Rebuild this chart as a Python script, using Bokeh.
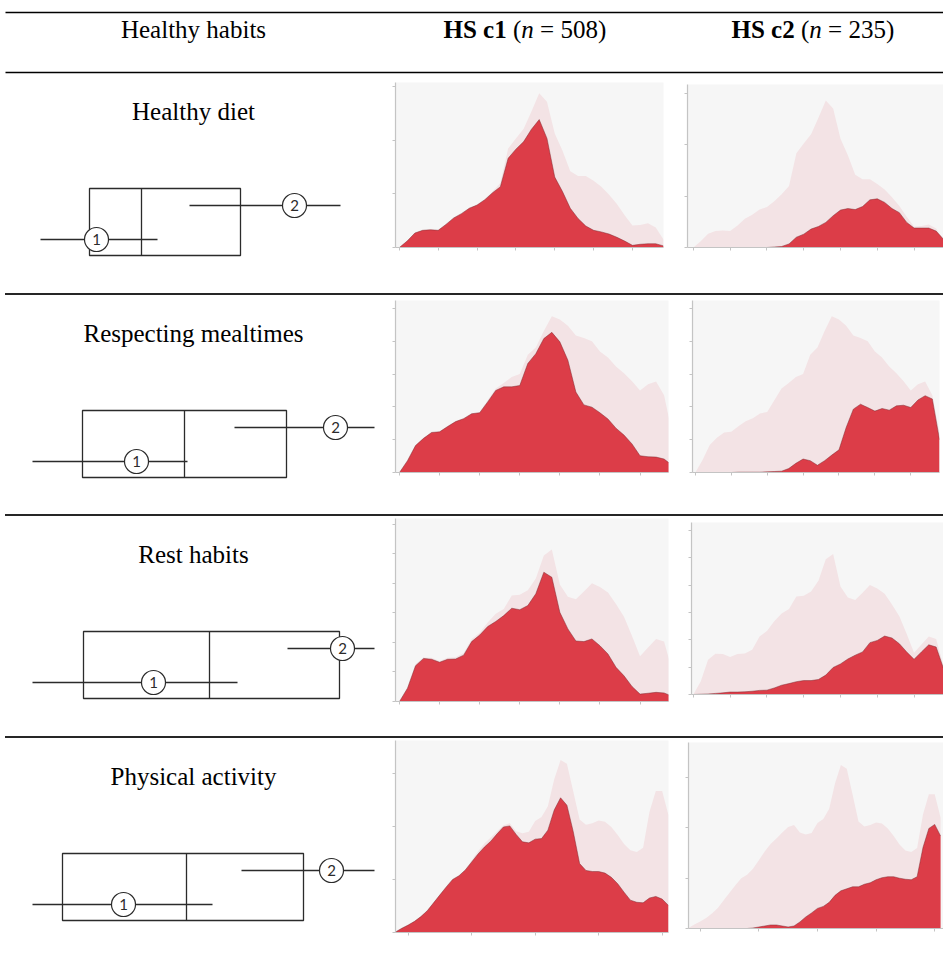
from bokeh.plotting import figure
from bokeh.models import Range1d, FixedTicker, Div
from bokeh.layouts import column, row
from bokeh.embed import file_html
from bokeh.resources import INLINE
from bokeh.core.properties import value

# ---------------- data ----------------
header_label = "Healthy habits"
cluster_labels = ["HS c1", "HS c2"]
cluster_sizes = [508, 235]
habit_labels = ["Healthy diet", "Respecting mealtimes", "Rest habits", "Physical activity"]

score_grid = [0.0, 0.2, 0.4, 0.6, 0.8, 1.0, 1.2, 1.4, 1.6, 1.8, 2.0, 2.2, 2.4, 2.6, 2.8,
              3.0, 3.2, 3.4, 3.6, 3.8, 4.0, 4.2, 4.4, 4.6, 4.8, 5.0, 5.2, 5.4, 5.6, 5.8,
              6.0, 6.2, 6.4, 6.6, 6.8]
activity_grid = [0.8, 0.9, 1.0, 1.1, 1.2, 1.3, 1.4, 1.5, 1.6, 1.7, 1.8, 1.9, 2.0, 2.1, 2.2,
                 2.3, 2.4, 2.5, 2.6, 2.7, 2.8, 2.9, 3.0, 3.1, 3.2, 3.3, 3.4, 3.5, 3.6, 3.7,
                 3.8, 3.9, 4.0, 4.1, 4.2, 4.3, 4.4, 4.5, 4.6, 4.7, 4.8, 4.9, 5.0, 5.1]
score_ticks = [0, 1, 2, 3, 4, 5, 6]
activity_ticks = [1, 2, 3, 4, 5]
density_ticks = [[0, 1, 2, 3], [0, 1, 2, 3, 4, 5], [0, 1, 2, 3, 4, 5, 6], [0, 1, 2, 3]]

diet_all = [0.00, 0.12, 0.27, 0.32, 0.33, 0.32, 0.43, 0.56, 0.64, 0.74, 0.79, 0.90, 1.04, 1.20, 1.84,
            2.03, 2.21, 2.53, 2.87, 2.71, 2.12, 1.80, 1.42, 1.33, 1.33, 1.24, 1.13, 0.98, 0.81, 0.60,
            0.41, 0.42, 0.45, 0.37, 0.15]
diet_c1 = [0.00, 0.12, 0.27, 0.32, 0.33, 0.32, 0.43, 0.55, 0.63, 0.73, 0.79, 0.89, 1.02, 1.13, 1.66,
           1.83, 1.97, 2.20, 2.38, 2.03, 1.31, 1.04, 0.73, 0.54, 0.40, 0.32, 0.29, 0.25, 0.19, 0.12,
           0.04, 0.06, 0.07, 0.07, 0.03]
diet_c2 = [0.00, 0.00, 0.00, 0.00, 0.00, 0.00, 0.00, 0.00, 0.00, 0.00, 0.00, 0.01, 0.02, 0.07, 0.20,
           0.26, 0.36, 0.41, 0.49, 0.62, 0.73, 0.76, 0.74, 0.80, 0.93, 0.95, 0.88, 0.76, 0.68, 0.49,
           0.38, 0.38, 0.38, 0.32, 0.16]

meal_all = [0.00, 0.38, 0.84, 1.06, 1.22, 1.24, 1.41, 1.56, 1.65, 1.80, 1.84, 2.20, 2.56, 2.73, 2.91,
            3.00, 3.59, 3.81, 4.31, 4.76, 4.66, 4.47, 4.17, 4.10, 4.00, 3.69, 3.50, 3.23, 3.02, 2.78,
            2.50, 2.69, 2.77, 2.35, 1.20]
meal_c1 = [0.00, 0.36, 0.82, 1.04, 1.22, 1.24, 1.40, 1.55, 1.64, 1.79, 1.82, 2.15, 2.50, 2.61, 2.61,
           2.65, 3.32, 3.62, 4.08, 4.27, 3.98, 3.42, 2.45, 2.06, 1.99, 1.82, 1.63, 1.35, 1.14, 0.87,
           0.51, 0.48, 0.47, 0.41, 0.22]
meal_c2 = [0.00, 0.00, 0.00, 0.00, 0.00, 0.00, 0.01, 0.01, 0.01, 0.01, 0.02, 0.03, 0.04, 0.12, 0.28,
           0.41, 0.36, 0.22, 0.36, 0.53, 0.69, 1.37, 1.93, 2.08, 1.98, 1.87, 1.95, 1.90, 2.03, 2.05,
           1.98, 2.21, 2.34, 2.24, 1.00]

rest_all = [0.00, 0.48, 1.27, 1.49, 1.48, 1.37, 1.48, 1.50, 1.64, 2.12, 2.33, 2.68, 2.97, 3.13, 3.59,
            3.62, 3.77, 4.17, 4.95, 5.15, 3.96, 3.55, 3.46, 3.73, 4.01, 3.88, 3.69, 3.30, 2.87, 2.22,
            1.53, 1.83, 2.12, 2.03, 1.05]
rest_c1 = [0.00, 0.45, 1.21, 1.46, 1.43, 1.33, 1.43, 1.44, 1.57, 2.03, 2.25, 2.54, 2.71, 2.91, 3.16,
           3.11, 3.25, 3.65, 4.38, 4.21, 3.02, 2.46, 2.05, 2.03, 2.12, 1.89, 1.61, 1.16, 0.87, 0.51,
           0.25, 0.28, 0.31, 0.29, 0.18]
rest_c2 = [0.00, 0.01, 0.02, 0.04, 0.06, 0.09, 0.09, 0.10, 0.12, 0.15, 0.16, 0.24, 0.34, 0.40, 0.47,
           0.51, 0.51, 0.55, 0.71, 0.99, 1.12, 1.30, 1.44, 1.56, 1.90, 1.98, 2.14, 2.07, 1.86, 1.56,
           1.29, 1.56, 1.82, 1.74, 0.95]

act_all = [0.01, 0.08, 0.14, 0.21, 0.30, 0.41, 0.56, 0.71, 0.86, 1.00, 1.07, 1.19, 1.36, 1.53, 1.68,
           1.79, 1.91, 2.02, 2.06, 1.91, 1.87, 1.90, 2.10, 2.18, 2.38, 2.89, 3.25, 3.18, 2.66, 2.13,
           2.03, 2.06, 2.11, 2.09, 1.99, 1.84, 1.67, 1.55, 1.52, 1.60, 2.27, 2.67, 2.67, 2.21]
act_c1 = [0.01, 0.08, 0.14, 0.21, 0.30, 0.41, 0.56, 0.71, 0.86, 1.00, 1.07, 1.18, 1.33, 1.48, 1.61,
          1.72, 1.86, 1.99, 2.01, 1.85, 1.71, 1.69, 1.76, 1.77, 1.93, 2.31, 2.54, 2.40, 1.90, 1.30,
          1.17, 1.15, 1.15, 1.12, 1.04, 0.92, 0.76, 0.61, 0.57, 0.56, 0.65, 0.68, 0.63, 0.51]
act_c2 = [0.00, 0.00, 0.00, 0.00, 0.00, 0.00, 0.00, 0.00, 0.00, 0.00, 0.00, 0.01, 0.03, 0.05, 0.07,
          0.07, 0.05, 0.03, 0.05, 0.13, 0.23, 0.31, 0.40, 0.44, 0.52, 0.66, 0.75, 0.79, 0.83, 0.83,
          0.88, 0.91, 0.97, 1.01, 1.03, 1.03, 1.00, 0.98, 0.97, 1.03, 1.61, 1.99, 2.07, 1.84]

# schematic box diagram (horizontal scale of the diagram column)
box_q1 = [89, 82, 83, 62]
box_median = [141, 184, 209, 186]
box_q3 = [240, 286, 339, 303]
clu1_from = [40, 32, 32, 32]
clu1_mark = [96, 136, 153, 123]
clu1_to = [157, 187, 237, 212]
clu2_from = [189, 234, 287, 241]
clu2_mark = [294, 335, 342, 331]
clu2_to = [340, 374, 374, 374]
cluster_marks = ["1", "2"]

# ---------------- layout / style ----------------
W_TOTAL = 943
W_LEFT, W_C1, W_C2 = 385, 295, 263
HEADER_H = 74
row_heights = [218, 217, 218, 207]
# (top, bottom, left, right) borders around each density frame
c1_borders = [(8, 45, 10, 17), (4, 41, 10, 12), (1, 34, 10, 12), (1, 14, 10, 12)]
c2_borders = [(10, 45, 7, 0), (4, 41, 12, 4), (5, 41, 11, 0), (3, 18, 8, 0)]
c1_xr = [(-0.1, 6.8), (-0.1, 6.71), (-0.1, 6.71), (0.8, 5.1)]
c2_xr = [(-0.16, 6.8), (-0.08, 6.8), (-0.05, 6.8), (0.8, 5.15)]
c1_ymax = [3.07, 5.24, 6.2, 3.62]
c2_ymax = [3.18, 5.24, 6.3, 3.7]

SERIF = value("Liberation Serif")
INK = "#2b2b2b"
BG = "#f6f6f6"
PINK = "#f3e3e5"
RED = "#dc3d48"
EDGE = "#7d2a31"
AXIS = "#c4c4c4"
NBSP = "\u00a0"

grids = [score_grid, score_grid, score_grid, activity_grid]
xticks = [score_ticks, score_ticks, score_ticks, activity_ticks]
alls = [diet_all, meal_all, rest_all, act_all]
c1s = [diet_c1, meal_c1, rest_c1, act_c1]
c2s = [diet_c2, meal_c2, rest_c2, act_c2]


def base_fig(width, height, xr, yr, **kw):
    p = figure(width=width, height=height, x_range=Range1d(*xr), y_range=Range1d(*yr),
               toolbar_location=None, output_backend="svg", outline_line_color=None,
               border_fill_color="white", **kw)
    p.grid.visible = False
    return p


def separator():
    # a thin horizontal rule between table rows (occupies 4 px of height)
    return Div(text="", width=W_TOTAL - 5, height=2, margin=(1, 0, 1, 5),
               styles={"background-color": "#262626"})


def header():
    p = base_fig(W_TOTAL, HEADER_H, (0, W_TOTAL), (HEADER_H, 0), min_border=0,
                 x_axis_location=None, y_axis_location=None)
    p.segment(x0=[5, 5], y0=[12, 72], x1=[W_TOTAL, W_TOTAL], y1=[12, 72],
              line_color="black", line_width=1.5)
    p.text(x=[193], y=[29], text=[header_label], text_font=SERIF, text_font_size="25px",
           text_align="center", text_baseline="middle", text_color="black")
    starts = [443, 731]
    for lab, n, x0 in zip(cluster_labels, cluster_sizes, starts):
        pieces = [(lab, "bold", 63.2), (NBSP + "(", "normal", 14.6), ("n", "italic", 12.5),
                  (NBSP + "=" + NBSP + str(n) + ")", "normal", 72.4)]
        x = x0
        for txt, style, w in pieces:
            p.text(x=[x], y=[29], text=[txt], text_font=SERIF, text_font_size="25px",
                   text_font_style=style, text_align="left", text_baseline="middle",
                   text_color="black")
            x += w
    return p


def habit_panel(i, height):
    p = base_fig(W_LEFT, height, (0, W_LEFT), (height, 0), min_border=0,
                 x_axis_location=None, y_axis_location=None, background_fill_color="white")
    p.text(x=[193], y=[37], text=[habit_labels[i]], text_font=SERIF, text_font_size="25px",
           text_align="center", text_baseline="middle", text_color="black")
    top, bot, y2, y1 = 114, 181, 131, 165
    p.quad(left=[box_q1[i]], right=[box_q3[i]], top=[top], bottom=[bot],
           fill_color=None, line_color=INK, line_width=1.3)
    p.segment(x0=[box_median[i]], y0=[top], x1=[box_median[i]], y1=[bot],
              line_color=INK, line_width=1.3)
    p.segment(x0=[clu1_from[i], clu2_from[i]], y0=[y1, y2], x1=[clu1_to[i], clu2_to[i]],
              y1=[y1, y2], line_color=INK, line_width=1.3)
    p.scatter(x=[clu1_mark[i], clu2_mark[i]], y=[y1, y2], marker="circle", size=24,
              fill_color="white", line_color=INK, line_width=1.2)
    p.text(x=[clu1_mark[i], clu2_mark[i]], y=[y1, y2], text=cluster_marks,
           text_font=value("Lato"), text_font_size="15px", text_align="center",
           text_baseline="middle", text_color=INK)
    return p


def density_panel(width, height, borders, xr, ymax, xs, all_vals, grp_vals, xt, yt):
    top, bottom, left, right = borders
    p = base_fig(width, height, xr, (0, ymax), min_border_top=top, min_border_bottom=bottom,
                 min_border_left=left, min_border_right=right, background_fill_color=BG)
    p.varea(x=xs, y1=0, y2=all_vals, fill_color=PINK)
    p.varea(x=xs, y1=0, y2=grp_vals, fill_color=RED)
    p.line(x=xs, y=grp_vals, line_color=EDGE, line_width=0.8, line_alpha=0.6)
    for ax, ticks in ((p.xaxis[0], xt), (p.yaxis[0], yt)):
        ax.ticker = FixedTicker(ticks=ticks)
        ax.major_label_overrides = {float(t): "" for t in ticks}
        ax.major_label_text_font_size = "1px"
        ax.major_label_standoff = 0
        ax.axis_line_color = AXIS
        ax.axis_line_width = 1.2
        ax.major_tick_line_color = AXIS
        ax.major_tick_out = 3
        ax.major_tick_in = 0
        ax.minor_tick_line_color = None
    return p


children = [header()]
for i in range(4):
    h = row_heights[i]
    if i > 0:
        children.append(separator())
    left = habit_panel(i, h)
    p1 = density_panel(W_C1, h, c1_borders[i], c1_xr[i], c1_ymax[i], grids[i], alls[i], c1s[i],
                       xticks[i], density_ticks[i])
    p2 = density_panel(W_C2, h, c2_borders[i], c2_xr[i], c2_ymax[i], grids[i], alls[i], c2s[i],
                       xticks[i], density_ticks[i])
    # wrap each panel so that the row does not align the plot frames with each other
    children.append(row(column(left, spacing=0), column(p1, spacing=0), column(p2, spacing=0),
                        spacing=0))

layout = column(*children, spacing=0)
open("out.html", "w").write(file_html(layout, INLINE))
